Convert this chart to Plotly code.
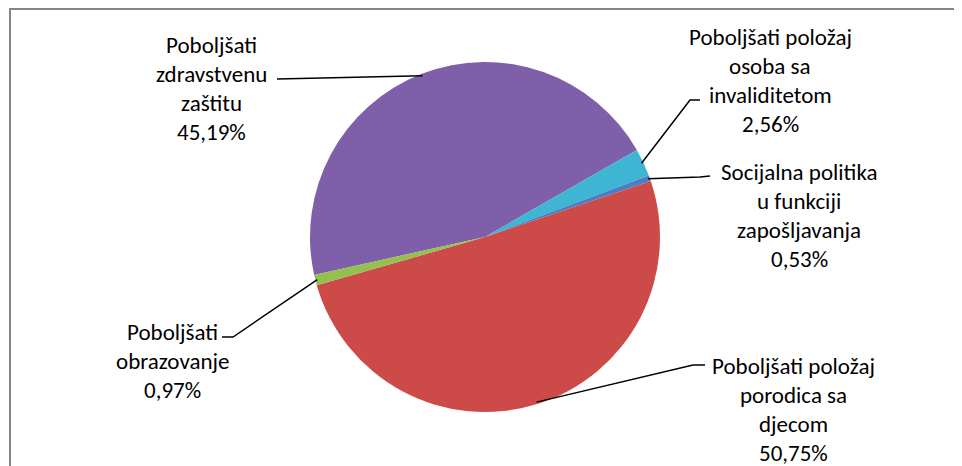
import math

import plotly.graph_objects as go

# Podaci (redoslijed u smjeru kazaljke na satu)
LABELS = [
    "Poboljšati zdravstvenu zaštitu",
    "Poboljšati položaj osoba sa invaliditetom",
    "Socijalna politika u funkciji zapošljavanja",
    "Poboljšati položaj porodica sa djecom",
    "Poboljšati obrazovanje",
]
LABEL_LINES = [
    ["Poboljšati", "zdravstvenu", "zaštitu"],
    ["Poboljšati položaj", "osoba sa", "invaliditetom"],
    ["Socijalna politika", "u funkciji", "zapošljavanja"],
    ["Poboljšati položaj", "porodica sa", "djecom"],
    ["Poboljšati", "obrazovanje"],
]
VALUES = [45.19, 2.56, 0.53, 50.75, 0.97]
COLORS = ["#7F5FAA", "#3DB5D3", "#4A7FC4", "#CC4B48", "#93C04E"]

# stranica ima body margin 8px -> figura je pomaknuta za 8px
OFF = 8
W, H = 962 - OFF, 466 - OFF
CX, CY, R = 485, 237, 173  # centar i radijus pite (px na slici)
ROTATION = 257.5
FONT = "Carlito, Lato, sans-serif"
LINE_H = 29

# pozicija teksta (centar x, y prvog reda) i tacke vodica (od ruba pite prema tekstu)
LABEL_POS = [(211, 45), (770, 37), (799, 172), (793, 366), (172, 332)]
LEADER_PTS = [
    [(277, 79)],
    [(690, 100), (700, 100)],
    [(700, 177), (710, 176)],
    [(693, 365), (705, 365)],
    [(233, 337), (222, 337)],
]


def px(x, y):
    return (x - OFF) / W, 1 - (y - OFF) / H


def pct(v):
    return f"{v:.2f}".replace(".", ",") + "%"


x0, y1 = px(CX - R - 2, CY - R - 2)
x1, y0 = px(CX + R + 2, CY + R + 2)
fig = go.Figure(
    go.Pie(
        labels=LABELS,
        values=VALUES,
        sort=False,
        direction="clockwise",
        rotation=ROTATION,
        marker={"colors": COLORS, "line": {"width": 0}},
        textinfo="none",
        hoverinfo="label+percent",
        domain={"x": [x0, x1], "y": [y0, y1]},
        showlegend=False,
    )
)

annotations = []
shapes = []
total = sum(VALUES)
start = ROTATION
for i, v in enumerate(VALUES):
    mid = math.radians(start + v / total * 180)
    start += v / total * 360
    ex, ey = CX + R * math.sin(mid), CY - R * math.cos(mid)
    pts = [(ex, ey)] + LEADER_PTS[i]
    path = "M " + " L ".join("{},{}".format(*px(x, y)) for x, y in pts)
    shapes.append(
        dict(type="path", xref="paper", yref="paper", path=path,
             line={"color": "#000000", "width": 1.5})
    )
    lx, ly = LABEL_POS[i]
    for j, line in enumerate(LABEL_LINES[i] + [pct(v)]):
        ax, ay = px(lx, ly + j * LINE_H)
        annotations.append(
            dict(x=ax, y=ay, xref="paper", yref="paper", text=line, showarrow=False,
                 xanchor="center", yanchor="middle",
                 font={"family": FONT, "size": 23, "color": "#000000"})
        )

# okvir grafikona
bx0, by1 = px(10, 9)
bx1, _ = px(955, 9)
shapes.append(
    dict(type="rect", xref="paper", yref="paper", x0=bx0, x1=bx1, y0=-0.05, y1=by1,
         line={"color": "#868686", "width": 2}, fillcolor="rgba(0,0,0,0)", layer="below")
)

fig.update_layout(
    width=W,
    height=H,
    margin={"l": 0, "r": 0, "t": 0, "b": 0},
    paper_bgcolor="#FFFFFF",
    plot_bgcolor="#FFFFFF",
    annotations=annotations,
    shapes=shapes,
)

fig.write_html("out.html")
